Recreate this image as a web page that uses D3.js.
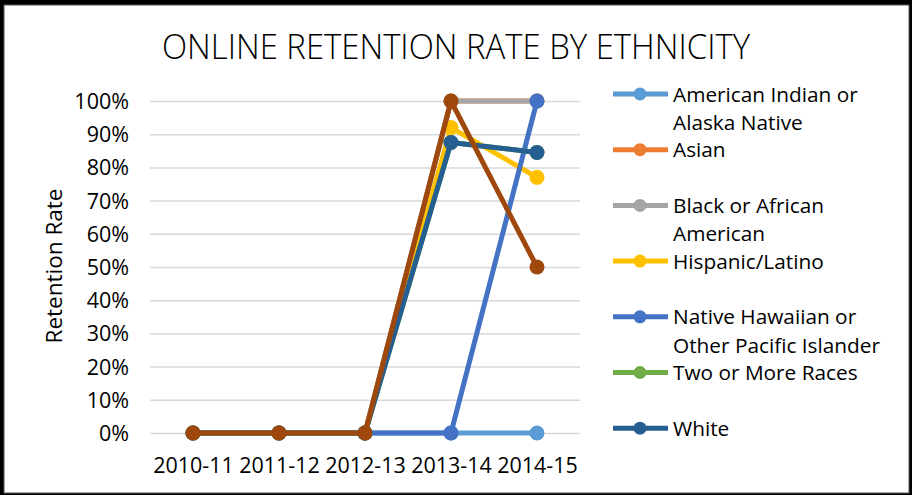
<!DOCTYPE html>
<html>
<head>
<meta charset="utf-8">
<script src="https://cdn.jsdelivr.net/npm/d3@7/dist/d3.min.js"></script>
<style>
  html, body { margin: 0; padding: 0; background: #fff; }
  svg { display: block; }
  text { font-family: "Open Sans", "Noto Sans", sans-serif; fill: #000; }
</style>
</head>
<body>
<svg id="chart" width="912" height="495"></svg>
<script>
// School years on the category axis
const years = ["2010-11", "2011-12", "2012-13", "2013-14", "2014-15"];

// Retention rate (%) per ethnicity group
const americanIndian = [0, 0, 0, 0, 0];
const asian = [0, 0, 0, 100, 100];
const black = [0, 0, 0, 100, 100];
const hispanic = [0, 0, 0, 92, 77];
const nativeHawaiian = [0, 0, 0, 0, 100];
const twoOrMore = [0, 0, 0, 87.5, 84.5];
const white = [0, 0, 0, 87.5, 84.5];
const unknown = [0, 0, 0, 100, 50];

const seriesNames = [
  "American Indian or Alaska Native",
  "Asian",
  "Black or African American",
  "Hispanic/Latino",
  "Native Hawaiian or Other Pacific Islander",
  "Two or More Races",
  "White",
  "Unknown"
];
const seriesValues = [americanIndian, asian, black, hispanic, nativeHawaiian, twoOrMore, white, unknown];
const seriesColors = ["#5B9BD5", "#ED7D31", "#A5A5A5", "#FFC000", "#4472C4", "#70AD47", "#255E91", "#9E480E"];

// Legend text, wrapped as it is shown (the last series has no legend entry)
const legendLines = [
  ["American Indian or", "Alaska Native"],
  ["Asian"],
  ["Black or African", "American"],
  ["Hispanic/Latino"],
  ["Native Hawaiian or", "Other Pacific Islander"],
  ["Two or More Races"],
  ["White"]
];

const yTicks = [0, 10, 20, 30, 40, 50, 60, 70, 80, 90, 100];

const svg = d3.select("#chart");
const W = 912, H = 495;

// Frame
svg.append("rect").attr("width", W).attr("height", H).attr("fill", "#000");
svg.append("rect").attr("x", 4).attr("y", 5).attr("width", 905).attr("height", 488)
  .attr("fill", "#fff").attr("stroke", "#555").attr("stroke-width", 1);

const plot = { left: 150, right: 580, top: 101, bottom: 433 };

const x = d3.scalePoint().domain(years).range([plot.left, plot.right]).padding(0.5);
const y = d3.scaleLinear().domain([0, 100]).range([plot.bottom, plot.top]);

// Title
const title = svg.append("text")
  .attr("x", 456).attr("y", 59)
  .attr("text-anchor", "middle")
  .attr("font-size", 35)
  .attr("font-weight", 300)
  .text("ONLINE RETENTION RATE BY ETHNICITY");
title.attr("textLength", 588).attr("lengthAdjust", "spacingAndGlyphs");

// Gridlines and y labels
const yAxis = d3.axisLeft(y).tickValues(yTicks)
  .tickSize(-(plot.right - plot.left))
  .tickPadding(21)
  .tickFormat(d => d + "%");
const gy = svg.append("g").attr("transform", `translate(${plot.left},0)`).call(yAxis);
gy.select(".domain").remove();
gy.selectAll(".tick line").attr("stroke", "#D9D9D9").attr("stroke-width", 1.5);
gy.selectAll(".tick text").attr("font-size", 21.5).attr("dy", "0.35em")
  .style("font-family", "'Open Sans', sans-serif").attr("fill", "#000");

// Category labels
const xAxis = d3.axisBottom(x).tickSize(0).tickPadding(25);
const gx = svg.append("g").attr("transform", `translate(0,${plot.bottom})`).call(xAxis);
gx.select(".domain").remove();
gx.selectAll(".tick text").attr("font-size", 21.5)
  .style("font-family", "'Open Sans', sans-serif").attr("fill", "#000");

// Axis title
svg.append("text")
  .attr("transform", "translate(62,266) rotate(-90)")
  .attr("text-anchor", "middle")
  .attr("font-size", 22.5)
  .text("Retention Rate");

// Series lines and markers
const line = d3.line().x((d, i) => x(years[i])).y(d => y(d));
seriesValues.forEach((vals, s) => {
  const g = svg.append("g");
  g.append("path").datum(vals)
    .attr("d", line)
    .attr("fill", "none")
    .attr("stroke", seriesColors[s])
    .attr("stroke-width", 5)
    .attr("stroke-linejoin", "round");
  g.selectAll("circle").data(vals).join("circle")
    .attr("cx", (d, i) => x(years[i]))
    .attr("cy", d => y(d))
    .attr("r", 7.5)
    .attr("fill", seriesColors[s]);
});

// Legend
const legendTop = 94, legendStep = 55.7, lineGap = 28.5;
legendLines.forEach((lines, i) => {
  const cy = legendTop + i * legendStep;
  const g = svg.append("g");
  g.append("line").attr("x1", 613).attr("x2", 668).attr("y1", cy).attr("y2", cy)
    .attr("stroke", seriesColors[i]).attr("stroke-width", 5);
  g.append("circle").attr("cx", 640).attr("cy", cy).attr("r", 6.5).attr("fill", seriesColors[i]);
  lines.forEach((t, k) => {
    g.append("text").attr("x", 673).attr("y", cy + 7.5 + k * lineGap)
      .attr("font-size", 20.8).text(t);
  });
});
</script>
</body>
</html>
